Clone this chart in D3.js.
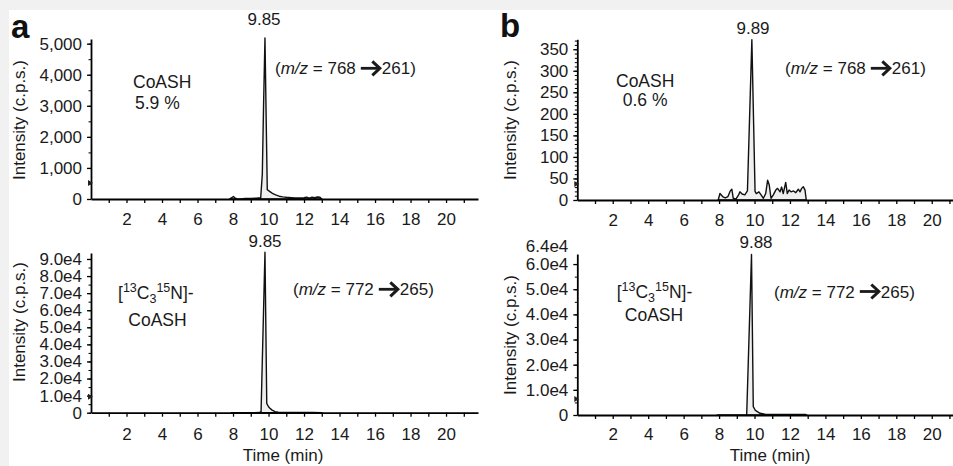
<!DOCTYPE html>
<html>
<head>
<meta charset="utf-8">
<script src="https://cdn.jsdelivr.net/npm/d3@7"></script>
<style>
body { margin: 0; background: #fff; }
</style>
</head>
<body>
<svg id="chart" width="953" height="466"></svg>
<script>
// --- data ---
// panel a, top: CoASH, m/z 768 -> 261
const timeA1 = [7.8, 7.95, 8.02, 8.1, 8.2, 8.4, 8.7, 9.0, 9.3, 9.56, 9.65, 9.72, 9.8, 9.87, 9.93, 10.0, 10.1, 10.25, 10.4, 10.6, 10.8, 11.0, 11.3, 11.5, 11.8, 12.0, 12.15, 12.3, 12.45, 12.6, 12.75, 12.9, 13.0];
const countA1 = [0, 50, 80, 40, 10, 5, 15, 20, 25, 40, 800, 3000, 5180, 2500, 300, 270, 230, 170, 130, 90, 70, 55, 40, 30, 30, 40, 60, 30, 60, 40, 65, 55, 0];
// panel a, bottom: labelled CoASH, m/z 772 -> 265
const timeA2 = [7.9, 9.0, 9.5, 9.58, 9.8, 9.9, 10.0, 10.08, 10.2, 10.37, 10.55, 10.8, 11.5, 12.5, 13.0];
const countA2 = [0, 0, 100, 600, 94000, 5500, 3500, 2600, 1500, 600, 250, 150, 100, 80, 0];
// panel b, top: CoASH, m/z 768 -> 261
const timeB1 = [7.95, 8.05, 8.2, 8.35, 8.5, 8.63, 8.72, 8.8, 8.95, 9.1, 9.18, 9.3, 9.45, 9.6, 9.85, 10.03, 10.1, 10.25, 10.37, 10.5, 10.63, 10.74, 10.83, 10.93, 11.06, 11.2, 11.3, 11.44, 11.53, 11.62, 11.76, 11.85, 11.95, 12.06, 12.2, 12.33, 12.47, 12.57, 12.66, 12.75, 12.85, 12.92];
const countB1 = [0, 15, 8, 5, 8, 21, 25, 4, 2, 12, 19, 14, 12, 21, 372, 20, 15, 19, 12, 4, 15, 46, 35, 4, 12, 23, 27, 19, 30, 15, 41, 15, 23, 19, 21, 17, 25, 19, 27, 31, 23, 0];
// panel b, bottom: labelled CoASH, m/z 772 -> 265
const timeB2 = [7.9, 9.5, 9.56, 9.83, 9.93, 10.05, 10.31, 10.6, 11.0, 12.0, 12.9, 12.95];
const countB2 = [0, 0, 300, 63800, 3300, 1800, 680, 350, 250, 200, 200, 0];

const xTicks = [2, 4, 6, 8, 10, 12, 14, 16, 18, 20];
const xMinor = [1, 3, 5, 7, 9, 11, 13, 15, 17, 19, 21];
const yTicksA1 = [0, 1000, 2000, 3000, 4000, 5000];
const yTicksA2 = [0, 10000, 20000, 30000, 40000, 50000, 60000, 70000, 80000, 90000];
const yTicksB1 = [0, 50, 100, 150, 200, 250, 300, 350];
const yTicksB2 = [0, 10000, 20000, 30000, 40000, 50000, 60000];

const FONT = "'Liberation Sans', Arial, Helvetica, sans-serif";
const svg = d3.select("#chart").attr("font-family", FONT);

// light grey frame of the scan
svg.append("rect").attr("width", 953).attr("height", 466).attr("fill", "#f1f1f1");
svg.append("rect").attr("x", 9).attr("y", 10).attr("width", 944).attr("height", 456).attr("fill", "#fff");

const fmtComma = d3.format(",");
const fmtE4 = v => v === 0 ? "0" : (v / 1e4).toFixed(1) + "e4";

function drawPanel(p) {
  const x = d3.scaleLinear().domain(p.xDomain).range(p.xRange);
  const y = d3.scaleLinear().domain(p.yDomain).range(p.yRange);
  const g = svg.append("g");
  const y0 = p.yRange[0];

  // trace
  const pts = p.time.map((t, i) => [t, p.count[i]]);
  g.append("path").datum(pts)
    .attr("fill", "#efefef")
    .attr("stroke", "#111")
    .attr("stroke-width", 1.4)
    .attr("stroke-linejoin", "round")
    .attr("d", d3.area().x(d => x(d[0])).y0(y0).y1(d => y(d[1])));

  // x axis
  g.append("g").attr("transform", "translate(0," + y0 + ")")
    .call(d3.axisBottom(x).tickValues(xMinor.filter(v => v <= p.xDomain[1])).tickSize(4).tickFormat("").tickSizeOuter(0))
    .call(a => a.select(".domain").remove())
    .selectAll("line").attr("stroke-width", 1.3);
  const xa = g.append("g").attr("transform", "translate(0," + y0 + ")")
    .call(d3.axisBottom(x).tickValues(xTicks).tickSize(4).tickPadding(p.xPad).tickSizeOuter(0));
  xa.attr("font-size", 17).attr("font-family", FONT);
  xa.select(".domain").attr("stroke-width", 1.8);
  xa.selectAll("line").attr("stroke-width", 1.3);
  xa.selectAll("text").attr("fill", "#1a1a1a");

  // y axis
  g.append("g").attr("transform", "translate(" + p.xRange[0] + ",0)")
    .call(d3.axisLeft(y).tickValues(d3.range(0, p.yDomain[1], p.yMinorStep)).tickSize(2.5).tickFormat("").tickSizeOuter(0))
    .call(a => a.select(".domain").remove())
    .selectAll("line").attr("stroke-width", 1);
  const ya = g.append("g").attr("transform", "translate(" + p.xRange[0] + ",0)")
    .call(d3.axisLeft(y).tickValues(p.yTicks).tickSize(4).tickPadding(5).tickFormat(p.fmt).tickSizeOuter(0));
  ya.attr("font-size", 17).attr("font-family", FONT);
  ya.select(".domain").attr("stroke-width", 1.8);
  ya.selectAll("line").attr("stroke-width", 1.3);
  ya.selectAll("text").attr("fill", "#1a1a1a");

  if (p.topLabel) {
    g.append("text").attr("x", p.xRange[0] - 9).attr("y", y(p.yDomain[1]) - 7).attr("dy", "0.32em")
      .attr("text-anchor", "end").style("font-size", "17px").attr("fill", "#1a1a1a").text(p.topLabel);
  }

  // small marker on the y axis
  const my = y0 - 16, mx = p.xRange[0];
  g.append("path").attr("d", `M${mx - 3},${my - 3}L${mx + 2},${my}L${mx - 3},${my + 3}Z`).attr("fill", "#222");

  // axis title
  g.append("text").attr("transform", `translate(${p.yTitleX},${p.yTitleY}) rotate(-90)`)
    .attr("text-anchor", "middle").style("font-size", "17px").attr("fill", "#1a1a1a")
    .text("Intensity (c.p.s.)");

  // peak label
  g.append("text").attr("x", p.peakX).attr("y", p.peakY).attr("text-anchor", "middle")
    .style("font-size", "17px").attr("fill", "#1a1a1a").text(p.peak);

  return g;
}

function drawMz(x0, base, from, to, gap) {
  const t = svg.append("text").attr("x", x0).attr("y", base).style("font-size", "17px").attr("fill", "#1a1a1a");
  t.append("tspan").text("(");
  t.append("tspan").style("font-style", "italic").text("m/z");
  t.append("tspan").text(" =" + gap + from);
  const len = t.node().getComputedTextLength();
  const ax1 = x0 + len + 5, ax2 = ax1 + 19, ay = base - 6;
  svg.append("path").attr("d", `M${ax1},${ay}H${ax2 - 2}`).attr("stroke", "#1a1a1a").attr("stroke-width", 2.8);
  svg.append("path").attr("d", `M${ax2 - 7.5},${ay - 7}L${ax2},${ay}L${ax2 - 7.5},${ay + 7}`)
    .attr("fill", "none").attr("stroke", "#1a1a1a").attr("stroke-width", 3);
  svg.append("text").attr("x", ax2 + 2).attr("y", base).style("font-size", "17px").attr("fill", "#1a1a1a").text(to + ")");
}

function drawIsotope(x0, base, cx, base2) {
  const t = svg.append("text").attr("x", x0).attr("y", base).style("font-size", "17.5px").attr("fill", "#1a1a1a");
  t.append("tspan").text("[");
  t.append("tspan").attr("font-size", 12.5).attr("dy", -7).text("13");
  t.append("tspan").attr("dy", 7).text("C");
  t.append("tspan").attr("font-size", 12.5).attr("dy", 4).text("3");
  t.append("tspan").attr("font-size", 12.5).attr("dy", -11).text("15");
  t.append("tspan").attr("dy", 7).text("N]-");
  svg.append("text").attr("x", cx).attr("y", base2).attr("text-anchor", "middle")
    .style("font-size", "17.5px").attr("fill", "#1a1a1a").text("CoASH");
}

function plainText(x, yv, s) {
  svg.append("text").attr("x", x).attr("y", yv).style("font-size", "17.5px").attr("fill", "#1a1a1a").text(s);
}

drawPanel({ time: timeA1, count: countA1, xDomain: [0, 21.8], xRange: [91, 478], yDomain: [0, 5150], yRange: [199, 39],
  yTicks: yTicksA1, yMinorStep: 500, fmt: fmtComma, xPad: 10, yTitleX: 25, yTitleY: 120, peak: "9.85", peakX: 264, peakY: 25 });
drawPanel({ time: timeA2, count: countA2, xDomain: [0, 21.8], xRange: [91, 478], yDomain: [0, 93500], yRange: [412.7, 253],
  yTicks: yTicksA2, yMinorStep: 5000, fmt: fmtE4, xPad: 11, yTitleX: 25, yTitleY: 322, peak: "9.85", peakX: 265, peakY: 246.5 });
drawPanel({ time: timeB1, count: countB1, xDomain: [0, 21.2], xRange: [577.3, 953], yDomain: [0, 373], yRange: [200, 39.3],
  yTicks: yTicksB1, yMinorStep: 10, fmt: d3.format("d"), xPad: 10, yTitleX: 515.5, yTitleY: 120, peak: "9.89", peakX: 753, peakY: 33.5 });
drawPanel({ time: timeB2, count: countB2, xDomain: [0, 21.2], xRange: [577.3, 953], yDomain: [0, 64000], yRange: [415, 254],
  yTicks: yTicksB2, yMinorStep: 5000, fmt: fmtE4, xPad: 8.5, yTitleX: 515.5, yTitleY: 335, peak: "9.88", peakX: 756, peakY: 248, topLabel: "6.4e4" });

// annotations
plainText(133, 88.3, "CoASH");
plainText(135, 108.5, "5.9 %");
drawMz(275, 74.3, "768", "261", " ");
drawIsotope(118, 298.5, 157.5, 326);
drawMz(293, 295.3, "772", "265", " ");

plainText(616, 86.7, "CoASH");
plainText(622.7, 105.5, "0.6 %");
drawMz(785, 74.3, "768", "261", "  ");
drawIsotope(616.7, 297.5, 654, 321);
drawMz(774, 297.5, "772", "265", " ");

// time axis titles
svg.append("text").attr("x", 283).attr("y", 461).attr("text-anchor", "middle").style("font-size", "17px").attr("fill", "#1a1a1a").text("Time (min)");
svg.append("text").attr("x", 770).attr("y", 461).attr("text-anchor", "middle").style("font-size", "17px").attr("fill", "#1a1a1a").text("Time (min)");

// panel letters
svg.append("text").attr("x", 11).attr("y", 38).style("font-size", "33px").style("font-weight", "bold").attr("fill", "#111").text("a");
svg.append("text").attr("x", 500).attr("y", 37).style("font-size", "33px").style("font-weight", "bold").attr("fill", "#111").text("b");
</script>
</body>
</html>
